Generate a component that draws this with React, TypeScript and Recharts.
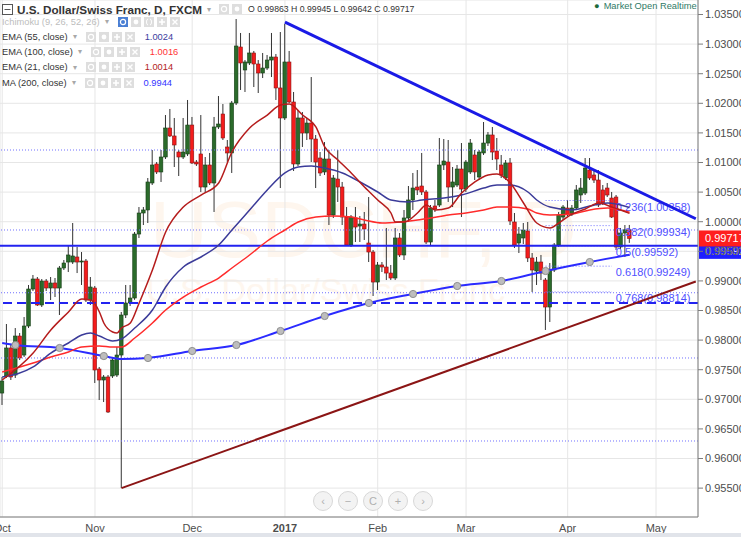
import React from 'react';
import {
  ComposedChart,
  Bar,
  Line,
  XAxis,
  YAxis,
  CartesianGrid,
  ReferenceLine,
} from 'recharts';

/* ── daily candles, USD/CHF (open, high, low, close) ── */
const candles: [number, number, number, number][] = [
  [0.97106, 0.97377, 0.96904, 0.97309], [0.97394, 0.98272, 0.9736, 0.97867], [0.97867, 0.97917, 0.97326, 0.97377],
  [0.9741, 0.98204, 0.9736, 0.98069], [0.98069, 0.9812, 0.97664, 0.97698], [0.97748, 0.9839, 0.97715, 0.98238],
  [0.98238, 0.98931, 0.98204, 0.98863], [0.98863, 0.991, 0.98829, 0.99032], [0.99032, 0.99066, 0.98576, 0.98593],
  [0.98593, 0.99032, 0.98559, 0.98998], [0.98998, 0.99032, 0.98829, 0.9888], [0.9888, 0.99066, 0.98677, 0.98965],
  [0.98965, 0.99049, 0.98728, 0.9888], [0.9888, 0.99252, 0.98424, 0.99218], [0.99218, 0.99353, 0.99184, 0.99302],
  [0.99319, 0.99606, 0.9915, 0.99438], [0.99319, 0.99978, 0.99286, 0.99421], [0.99404, 0.99573, 0.99133, 0.99319],
  [0.99319, 0.99488, 0.98931, 0.99336], [0.99336, 0.9937, 0.98644, 0.98677], [0.98677, 0.99066, 0.98593, 0.98897],
  [0.9888, 0.98914, 0.97275, 0.97495], [0.97512, 0.97546, 0.96988, 0.97326], [0.97326, 0.9741, 0.96954, 0.97377],
  [0.97377, 0.9741, 0.96769, 0.96786], [0.97394, 0.97715, 0.9736, 0.97664], [0.9741, 0.97883, 0.97377, 0.97748],
  [0.97748, 0.98475, 0.95502, 0.98424], [0.98424, 0.98931, 0.98373, 0.98627], [0.98627, 0.98931, 0.98576, 0.98711],
  [0.98711, 0.99826, 0.9868, 0.99792], [0.99792, 1.00248, 0.99725, 1.00147], [1.00147, 1.00248, 0.99944, 1.00198],
  [1.00198, 1.00738, 0.99978, 1.00671], [1.00654, 1.01211, 1.0062, 1.00958], [1.00975, 1.01008, 1.00806, 1.0084],
  [1.0084, 1.01211, 1.00671, 1.01093], [1.01093, 1.01802, 1.01059, 1.01583], [1.01583, 1.01904, 1.01431, 1.01448],
  [1.01448, 1.01752, 1.00924, 1.01296], [1.01177, 1.01211, 1.00772, 1.01093], [1.01093, 1.01752, 1.01059, 1.01177],
  [1.01144, 1.02056, 1.0111, 1.01633], [1.01633, 1.01769, 1.00975, 1.00992], [1.01008, 1.01042, 1.00941, 1.00975],
  [1.01144, 1.01802, 1.00502, 1.00586], [1.00586, 1.01093, 1.00485, 1.00958], [1.00958, 1.01161, 1.0062, 1.00654],
  [1.00654, 1.01769, 1.00164, 1.016], [1.016, 1.02123, 1.01566, 1.0165], [1.01819, 1.01988, 1.0138, 1.01414],
  [1.01262, 1.0138, 1.01008, 1.01161], [1.01161, 1.02039, 1.00823, 1.02005], [1.02005, 1.03424, 1.01971, 1.02968],
  [1.02951, 1.03188, 1.02225, 1.02681], [1.02563, 1.02731, 1.02191, 1.02698], [1.02681, 1.03188, 1.02647, 1.0285],
  [1.0285, 1.02884, 1.02275, 1.02664], [1.02664, 1.02731, 1.02174, 1.02512], [1.02512, 1.0285, 1.02427, 1.02596],
  [1.02596, 1.02816, 1.02563, 1.02731], [1.02731, 1.03188, 1.02444, 1.02782], [1.02782, 1.02833, 1.02056, 1.02259],
  [1.02259, 1.03204, 1.00569, 1.01752], [1.01752, 1.0334, 1.01718, 1.02698], [1.02698, 1.02884, 1.02005, 1.02022],
  [1.02022, 1.02191, 1.00856, 1.00975], [1.00975, 1.01887, 1.00941, 1.01752], [1.01752, 1.01853, 1.01262, 1.01498],
  [1.01498, 1.01752, 1.0138, 1.01667], [1.01667, 1.02444, 1.01008, 1.01397], [1.01397, 1.01465, 1.00569, 1.01008],
  [1.01076, 1.01177, 1.00772, 1.00823], [1.0084, 1.01346, 1.00789, 1.01059], [1.01059, 1.01211, 0.99944, 1.00113],
  [1.00113, 1.00789, 1.00063, 1.00738], [1.00721, 1.01211, 1.00333, 1.00586], [1.00586, 1.00671, 0.99944, 1.00079],
  [1.00079, 1.00248, 0.9959, 0.99606], [0.99606, 1.00113, 0.99573, 1.00079], [1.00063, 1.00248, 0.99657, 0.9991],
  [0.99927, 1.00096, 0.99657, 0.99961], [0.99961, 1.00164, 0.99691, 0.99877], [0.9964, 1.00417, 0.99319, 0.99488],
  [0.99488, 0.99522, 0.98745, 0.98981], [0.98981, 0.99319, 0.98846, 0.99269], [0.99269, 0.99319, 0.9915, 0.99235],
  [0.99235, 0.99894, 0.99015, 0.99133], [0.99133, 0.99269, 0.99015, 0.99049], [0.99049, 0.99894, 0.99015, 0.99725],
  [0.99725, 0.99809, 0.99404, 0.99438], [0.99438, 1.00198, 0.99353, 1.00063], [1.00063, 1.00603, 0.99995, 1.00367],
  [1.00367, 1.00823, 1.00198, 1.00569], [1.00586, 1.00873, 1.00451, 1.00536], [1.00603, 1.01161, 1.00451, 1.00502],
  [1.00502, 1.00536, 0.99623, 0.99657], [0.99657, 1.00282, 0.99606, 1.00231], [1.00265, 1.00367, 1.00164, 1.00215],
  [1.00282, 1.01414, 1.00248, 1.00958], [1.00958, 1.01397, 1.00873, 1.01025], [1.01008, 1.0138, 1.00333, 1.00586],
  [1.00586, 1.00924, 1.00248, 1.00671], [1.0062, 1.00958, 1.00586, 1.0089], [1.0089, 1.01329, 1.00079, 1.00552],
  [1.00552, 1.01042, 1.00502, 1.01008], [1.0084, 1.01397, 1.00806, 1.01329], [1.01127, 1.01211, 1.00704, 1.0084],
  [1.00755, 1.01211, 1.00704, 1.01177], [1.01161, 1.01684, 1.01127, 1.01329], [1.01329, 1.01515, 1.01279, 1.01465],
  [1.01465, 1.016, 1.01042, 1.01177], [1.01194, 1.01414, 1.00873, 1.01059], [1.00958, 1.01127, 1.00738, 1.00789],
  [1.00738, 1.01042, 1.00704, 1.00992], [1.00992, 1.01076, 0.99944, 1.00012], [0.99995, 1.00147, 0.99556, 0.99606],
  [0.9964, 0.9991, 0.99471, 0.99792], [0.99725, 0.99978, 0.99623, 0.9986], [0.99843, 0.99995, 0.99319, 0.99387],
  [0.99387, 0.99471, 0.98813, 0.99184], [0.99167, 0.99404, 0.98931, 0.99319], [0.99319, 0.99438, 0.99015, 0.99133],
  [0.99015, 0.99049, 0.98171, 0.98559], [0.98559, 0.99302, 0.98306, 0.99184], [0.99184, 0.9964, 0.9915, 0.99606],
  [0.99606, 1.00164, 0.99573, 1.00113], [1.00079, 1.00282, 1.00029, 1.00248], [1.00231, 1.00367, 1.00096, 1.0013],
  [1.0013, 1.00282, 1.00096, 1.00231], [1.00231, 1.0062, 1.00198, 1.00536], [1.00451, 1.00738, 1.00316, 1.00569],
  [1.00485, 1.01076, 1.00451, 1.00907], [1.00873, 1.01076, 1.00704, 1.00738], [1.00789, 1.00873, 1.00654, 1.00704],
  [1.00704, 1.00873, 1.00248, 1.00282], [1.00536, 1.0062, 1.00282, 1.00316], [1.00569, 1.00654, 1.00417, 1.00451],
  [1.004, 1.00502, 1.00063, 1.00079], [1.00417, 1.00451, 0.99522, 0.99573], [0.99573, 0.99894, 0.99539, 0.99809],
  [0.99809, 0.99944, 0.99404, 0.99863], [0.99863, 0.99945, 0.99642, 0.99717],
];

/* moving averages: [bar, value] */
const ema21Pts = [
  [0, 0.97326], [7, 0.97782], [11, 0.98171], [15, 0.98475], [18, 0.98694], [20, 0.98677], [22, 0.98475],
  [23, 0.98289], [25, 0.98137], [26, 0.9812], [27, 0.98204], [29, 0.98289], [31, 0.98627], [34, 0.99184],
  [37, 0.99826], [41, 1.00248], [45, 1.00451], [49, 1.00654], [52, 1.01177], [56, 1.01583], [60, 1.01802],
  [63, 1.01971], [65, 1.01988], [68, 1.01802], [71, 1.016], [73, 1.01262], [76, 1.01042], [79, 1.00823],
  [82, 1.00586], [85, 1.00367], [88, 1.00147], [89, 0.99995], [91, 0.99995], [94, 1.00147], [96, 1.00282],
  [98, 1.00198], [101, 1.00231], [104, 1.00485], [107, 1.00671], [110, 1.00789], [112, 1.00806], [115, 1.00654],
  [118, 1.00316], [121, 0.99978], [124, 0.99894], [126, 0.99978], [129, 1.0013], [132, 1.00215], [135, 1.00316],
  [138, 1.00248], [142, 1.0014],
];
const ema55Pts = [
  [0, 0.97377], [7, 0.97546], [11, 0.97782], [15, 0.97951], [18, 0.98086], [20, 0.9812], [22, 0.98069],
  [25, 0.97985], [27, 0.98019], [30, 0.98204], [34, 0.98508], [37, 0.98897], [41, 0.99235], [45, 0.99404],
  [49, 0.99606], [52, 0.9986], [56, 1.00198], [60, 1.00536], [64, 1.00823], [67, 1.00924], [70, 1.00941],
  [73, 1.00907], [77, 1.00823], [81, 1.00671], [85, 1.00502], [88, 1.00367], [92, 1.00333], [95, 1.00367],
  [100, 1.004], [104, 1.00451], [109, 1.00569], [112, 1.0062], [115, 1.0062], [119, 1.00502], [121, 1.00367],
  [124, 1.00248], [129, 1.00198], [133, 1.00265], [137, 1.00316], [142, 1.0024],
];
const ema100Pts = [
  [0, 0.97461], [7, 0.97613], [11, 0.97715], [15, 0.97799], [18, 0.97883], [22, 0.97901], [25, 0.97883],
  [27, 0.97883], [30, 0.98036], [34, 0.98289], [37, 0.98508], [41, 0.98728], [45, 0.98897], [49, 0.99049],
  [52, 0.99218], [56, 0.99438], [60, 0.99674], [64, 0.9986], [67, 0.99995], [71, 1.00079], [75, 1.00096],
  [79, 1.00079], [82, 1.00029], [86, 0.99978], [90, 0.99995], [94, 1.00029], [97, 1.00063], [101, 1.00113],
  [105, 1.00147], [109, 1.00198], [112, 1.00248], [115, 1.00248], [119, 1.00215], [121, 1.00147], [124, 1.00113],
  [129, 1.0013], [133, 1.00198], [137, 1.00231], [142, 1.0016],
];
const ma200Pts = [
  [0, 0.97951], [3, 0.97917], [13, 0.97867], [23, 0.97731], [27, 0.97681], [33, 0.97698], [43, 0.97816],
  [53, 0.97917], [63, 0.98154], [73, 0.98407], [83, 0.98627], [93, 0.98779], [103, 0.98914], [113, 0.98998],
  [123, 0.99167], [133, 0.99319], [142, 0.9944],
];
const ma200Markers = [3, 13, 23, 33, 43, 53, 63, 73, 83, 93, 103, 113, 123, 133];

/* drawings */
const blueTrend = [[64, 1.0337], [157, 1.0005]];
const redTrend = [[27, 0.955], [157, 0.9899]];
const supportLevel = 0.99592;
const dashedLevel = 0.98627;
const dottedLevels = [1.01211, 0.9986, 0.988, 0.97698, 0.96296];
const fibLevels = [1.00358, 0.99934, 0.99592, 0.99249, 0.98814];
const fibLabels = ['0.236(1.00358)', '0.382(0.99934)', '0.5(0.99592)', '0.618(0.99249)', '0.768(0.98814)'];
const fibSpan = [123, 138];

const monthTicks = [0, 21, 43, 64, 85, 105, 128, 148];
const monthLabels = ['Oct', 'Nov', 'Dec', '2017', 'Feb', 'Mar', 'Apr', 'May'];
const priceTicks = [
  0.955, 0.96, 0.965, 0.97, 0.975, 0.98, 0.985, 0.99, 0.995, 1.0, 1.005, 1.01, 1.015, 1.02, 1.025, 1.03, 1.035,
];
const LAST_SLOT = 157;

const indicatorNames = ['EMA (55, close)', 'EMA (100, close)', 'EMA (21, close)', 'MA (200, close)'];
const indicatorValues = ['1.0024', '1.0016', '1.0014', '0.9944'];
const indicatorColors = ['#3c3c9e', '#ff3333', '#b22222', '#3333ff'];
const ohlcText = 'O 0.99863 H 0.99945 L 0.99642 C 0.99717';

const toMap = (pts: number[][]) => new Map(pts.map(([b, v]) => [b, v]));
const e21 = toMap(ema21Pts);
const e55 = toMap(ema55Pts);
const e100 = toMap(ema100Pts);
const m200 = toMap(ma200Pts);

const rows = Array.from({ length: LAST_SLOT + 1 }, (_, i) => {
  const c = candles[i];
  return {
    i,
    ohlc: c ?? null,
    range: c ? [c[2], c[1]] : null,
    ema21: e21.get(i) ?? null,
    ema55: e55.get(i) ?? null,
    ema100: e100.get(i) ?? null,
    ma200: m200.get(i) ?? null,
  };
});

const FONT = '"Liberation Sans", Arial, sans-serif';

const Candle = (props: any) => {
  const { x, y, width, height, payload } = props;
  if (!payload || !payload.ohlc || height == null) return <g />;
  const [o, h, l, c] = payload.ohlc;
  const hh = Math.abs(height);
  const k = h - l > 0 ? hh / (h - l) : 0;
  const py = (p: number) => y + (h - p) * k;
  const cx = x + width / 2;
  const up = c >= o;
  const top = py(Math.max(o, c));
  const bot = py(Math.min(o, c));
  return (
    <g>
      <line x1={cx} x2={cx} y1={y} y2={y + hh} stroke="#333" strokeWidth={1} />
      <rect
        x={cx - 1.8}
        y={top}
        width={3.6}
        height={Math.max(1, bot - top)}
        fill={up ? '#2b6b2b' : '#f41c1c'}
        stroke={up ? '#143d14' : '#8a1212'}
        strokeWidth={0.6}
      />
    </g>
  );
};

const MaDot = (props: any) => {
  const { cx, cy, payload, index } = props;
  if (cy == null || !payload || !ma200Markers.includes(payload.i)) return <g key={index} />;
  return <circle key={index} cx={cx} cy={cy} r={3.6} fill="#bdbdbd" stroke="#8e8e8e" strokeWidth={1} />;
};

const MonthTick = (props: any) => {
  const { x, y, payload } = props;
  const label = monthLabels[monthTicks.indexOf(payload.value)];
  return (
    <text x={x} y={y + 13} textAnchor="middle" fontSize={11} fill="#4d4d4d" fontFamily={FONT}
      fontWeight={label === '2017' ? 700 : 400}>
      {label}
    </text>
  );
};

const FibLabel = (props: any) => {
  const { viewBox, text } = props;
  if (!viewBox) return null;
  return (
    <text x={viewBox.x + viewBox.width + 4} y={viewBox.y + 10} fontSize={11} fill="#5050ff" fontFamily={FONT}>
      {text}
    </text>
  );
};

const PriceTag = (props: any) => {
  const { viewBox, text, fill, shift } = props;
  if (!viewBox) return null;
  const x = viewBox.x + viewBox.width + 1;
  const y = viewBox.y + shift;
  return (
    <g>
      <rect x={x} y={y - 8} width={44} height={16} fill={fill} />
      <text x={x + 6} y={y + 4} fontSize={11} fill="#fff" fontFamily={FONT}>{text}</text>
    </g>
  );
};

const Icon = ({ kind, active }: { kind: string; active?: boolean }) => (
  <svg width={10} height={10} style={{ display: 'block' }}>
    <rect x={0} y={0} width={10} height={10} fill={active ? '#4a7fd4' : '#dedede'} />
    {kind === 'eye' && <circle cx={5} cy={5} r={2.6} fill="none" stroke="#fff" strokeWidth={1.2} />}
    {kind === 'gear' && <circle cx={5} cy={5} r={2.4} fill="#fff" />}
    {kind === 'plus' && <path d="M5 2 V8 M2 5 H8" stroke="#fff" strokeWidth={1.6} />}
    {kind === 'x' && <path d="M2.5 2.5 L7.5 7.5 M7.5 2.5 L2.5 7.5" stroke="#fff" strokeWidth={1.4} />}
    {kind === 'brace' && <path d="M4 2 Q2.5 2 2.5 5 Q2.5 8 4 8 M6 2 Q7.5 2 7.5 5 Q7.5 8 6 8" stroke="#fff" fill="none" />}
  </svg>
);

const App: React.FC = () => {
  return (
    <div style={styles.frame}>
      {/* watermark */}
      <div style={styles.wm1}>USDCHF, D</div>
      <div style={styles.wm2}>U.S. Dollar/Swiss Franc</div>

      <div style={{ position: 'absolute', left: 0, top: 0 }}>
        <ComposedChart width={741} height={537} data={rows} margin={{ top: 0, right: 0, bottom: 0, left: 0 }}>
          <CartesianGrid stroke="#e6e6e6" strokeWidth={1} />
          <XAxis
            dataKey="i"
            type="category"
            ticks={monthTicks}
            interval={0}
            height={20}
            tickLine={false}
            tickSize={0}
            axisLine={{ stroke: '#7d7d7d' }}
            tick={<MonthTick />}
          />
          <YAxis
            orientation="right"
            width={43}
            domain={[0.95012, 1.03745]}
            allowDataOverflow
            ticks={priceTicks}
            tickFormatter={(v: number) => v.toFixed(5)}
            tick={{ fontSize: 11, fill: '#4d4d4d', fontFamily: FONT }}
            tickSize={5}
            tickMargin={2}
            axisLine={{ stroke: '#7d7d7d' }}
            tickLine={{ stroke: '#7d7d7d' }}
          />

          {dottedLevels.map((lv) => (
            <ReferenceLine key={'d' + lv} y={lv} stroke="#7070ff" strokeWidth={1} strokeDasharray="1 2" />
          ))}
          {fibLevels.map((lv, k) => (
            <ReferenceLine
              key={'f' + lv}
              segment={[{ x: fibSpan[0], y: lv }, { x: fibSpan[1], y: lv }]}
              stroke="#7070ff"
              strokeWidth={1}
              strokeDasharray="1 2"
              label={<FibLabel text={fibLabels[k]} />}
            />
          ))}
          <ReferenceLine y={dashedLevel} stroke="#2323f0" strokeWidth={2} strokeDasharray="9 5" />
          <ReferenceLine y={supportLevel} stroke="#2323f0" strokeWidth={2} />

          <Line type="monotone" dataKey="ma200" stroke="#2b2bff" strokeWidth={2} connectNulls dot={<MaDot />} activeDot={false} isAnimationActive={false} />
          <Line type="monotone" dataKey="ema100" stroke="#ff2b2b" strokeWidth={1.5} connectNulls dot={false} activeDot={false} isAnimationActive={false} />
          <Line type="monotone" dataKey="ema55" stroke="#3b3b99" strokeWidth={1.5} connectNulls dot={false} activeDot={false} isAnimationActive={false} />
          <Line type="monotone" dataKey="ema21" stroke="#b51c1c" strokeWidth={1.5} connectNulls dot={false} activeDot={false} isAnimationActive={false} />

          <Bar dataKey="range" barSize={4} shape={<Candle />} isAnimationActive={false} />

          <ReferenceLine
            segment={[{ x: blueTrend[0][0], y: blueTrend[0][1] }, { x: blueTrend[1][0], y: blueTrend[1][1] }]}
            stroke="#1a1ae6"
            strokeWidth={3}
          />
          <ReferenceLine
            segment={[{ x: redTrend[0][0], y: redTrend[0][1] }, { x: redTrend[1][0], y: redTrend[1][1] }]}
            stroke="#8b1515"
            strokeWidth={2}
          />

          <ReferenceLine y={supportLevel} stroke="none" label={<PriceTag text="0.99592" fill="#1f1fff" shift={5} />} />
          <ReferenceLine y={candles[candles.length - 1][3]} stroke="none" label={<PriceTag text="0.99717" fill="#ff1e1e" shift={0} />} />
        </ComposedChart>
      </div>

      {/* header */}
      <div style={styles.titleRow}>
        <svg width={11} height={11} style={{ marginRight: 4 }}>
          <rect x={0.5} y={0.5} width={10} height={10} fill="none" stroke="#555" />
          <path d="M2.5 5.5 H8.5" stroke="#555" />
        </svg>
        <span style={styles.title}>U.S. Dollar/Swiss Franc, D, FXCM</span>
        <span style={styles.caret}>▾</span>
        <span style={{ display: 'flex', gap: 3, marginLeft: 8 }}>
          <Icon kind="eye" />
          <Icon kind="gear" />
        </span>
        <span style={styles.ohlc}>{ohlcText}</span>
      </div>
      <div style={styles.market}>
        <span style={{ color: '#1c6b3a', marginRight: 4 }}>●</span>Market Open Realtime
      </div>

      <div style={{ ...styles.legendRow, top: 15.5 }}>
        <span style={{ color: '#bdbdbd' }}>Ichimoku (9, 26, 52, 26)</span>
        <span style={styles.caret}>▾</span>
        <span style={styles.icons}>
          <Icon kind="eye" active />
          <Icon kind="gear" />
          <Icon kind="brace" />
          <Icon kind="plus" />
          <Icon kind="x" />
        </span>
      </div>
      {indicatorNames.map((name, k) => (
        <div key={name} style={{ ...styles.legendRow, top: 30.5 + k * 15.4 }}>
          <span style={{ color: '#333' }}>{name}</span>
          <span style={styles.caret}>▾</span>
          <span style={styles.icons}>
            <Icon kind="eye" />
            <Icon kind="gear" />
            <Icon kind="plus" />
            <Icon kind="x" />
          </span>
          <span style={{ color: indicatorColors[k], marginLeft: 10 }}>{indicatorValues[k]}</span>
        </div>
      ))}

      {/* navigation buttons */}
      <svg width={130} height={24} style={{ position: 'absolute', left: 310, top: 489 }}>
        {['‹', '−', 'C', '+', '›'].map((g, k) => (
          <g key={g}>
            <circle cx={13 + k * 25} cy={12} r={9.5} fill="#f3f3f3" stroke="#d8d8d8" />
            <text x={13 + k * 25} y={16} textAnchor="middle" fontSize={11} fill="#b0b0b0" fontFamily={FONT}>{g}</text>
          </g>
        ))}
      </svg>

      <div style={styles.bottomStrip} />
    </div>
  );
};

const styles: Record<string, React.CSSProperties> = {
  frame: {
    position: 'absolute',
    left: 0,
    top: 0,
    width: 741,
    height: 537,
    overflow: 'hidden',
    background: '#fff',
    fontFamily: FONT,
  },
  wm1: {
    position: 'absolute',
    left: 150,
    top: 180,
    fontSize: 80,
    color: '#fef6ee',
    whiteSpace: 'nowrap',
    lineHeight: '100px',
  },
  wm2: {
    position: 'absolute',
    left: 146,
    top: 271,
    fontSize: 34,
    color: '#fef6ee',
    whiteSpace: 'nowrap',
    lineHeight: '38px',
  },
  titleRow: {
    position: 'absolute',
    left: 2,
    top: 2,
    height: 14,
    display: 'flex',
    alignItems: 'center',
    whiteSpace: 'nowrap',
  },
  title: {
    fontSize: 11.7,
    fontWeight: 700,
    color: '#333',
  },
  caret: {
    fontSize: 8,
    color: '#a8a8a8',
    marginLeft: 5,
  },
  ohlc: {
    fontSize: 8.7,
    color: '#333',
    marginLeft: 6,
  },
  market: {
    position: 'absolute',
    left: 594,
    top: 0,
    fontSize: 9.3,
    color: '#2f7a66',
    whiteSpace: 'nowrap',
    lineHeight: '12px',
  },
  legendRow: {
    position: 'absolute',
    left: 2,
    height: 12,
    display: 'flex',
    alignItems: 'center',
    fontSize: 9.3,
    whiteSpace: 'nowrap',
  },
  icons: {
    display: 'flex',
    gap: 3,
    marginLeft: 9,
  },
  bottomStrip: {
    position: 'absolute',
    left: 0,
    top: 533,
    width: 741,
    height: 4,
    background: '#e1e4ea',
  },
};

export default App;
